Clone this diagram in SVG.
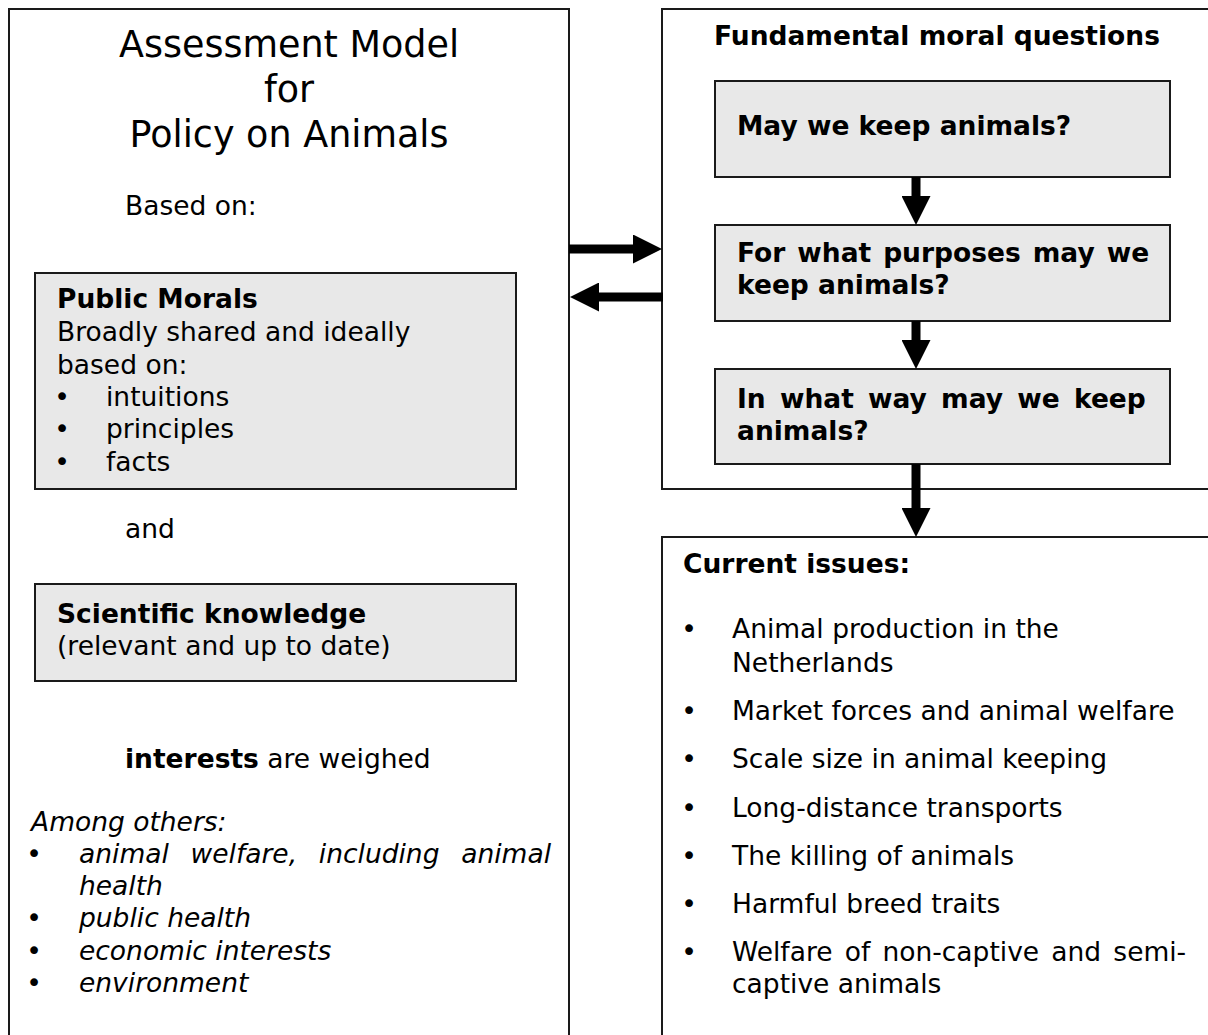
<svg xmlns="http://www.w3.org/2000/svg" width="1208" height="1035" viewBox="0 0 1208 1035">
<defs>
<style>
text{font-family:"DejaVu Sans",Verdana,sans-serif;font-size:26.5px;fill:#000}
.title{font-size:36.5px;text-anchor:middle}
.b{font-weight:bold}
.i{font-style:italic}
.bul{text-anchor:middle}
.outer{fill:#fff;stroke:#1a1a1a;stroke-width:2}
.inner{fill:#e8e8e8;stroke:#1a1a1a;stroke-width:2}
.conn{fill:none;stroke:#000;stroke-width:9}
</style>
<marker id="head" viewBox="0 0 29 29" refX="1" refY="14.5" markerWidth="29" markerHeight="29" markerUnits="userSpaceOnUse" orient="auto">
<path d="M0,0 L29,14.5 L0,29 Z" fill="#000"/>
</marker>
</defs>
<rect width="1208" height="1035" fill="#fff"/>

<g id="assessment-model">
<rect class="outer" x="9" y="9" width="560" height="1050"/>
<text class="title" x="289" y="57">Assessment Model</text>
<text class="title" x="289" y="102">for</text>
<text class="title" x="289" y="147">Policy on Animals</text>
<text x="125" y="215">Based on:</text>
<text x="125" y="538">and</text>
<text x="125" y="768"><tspan class="b">interests</tspan> are weighed</text>
<text class="i" x="31" y="831">Among others:</text>
<text class="bul" x="34" y="863">•</text>
<text class="i" x="79" y="863" word-spacing="13.3">animal welfare, including animal</text>
<text class="i" x="79" y="895">health</text>
<text class="bul" x="34" y="927">•</text>
<text class="i" x="79" y="927">public health</text>
<text class="bul" x="34" y="960">•</text>
<text class="i" x="79" y="960">economic interests</text>
<text class="bul" x="34" y="992">•</text>
<text class="i" x="79" y="992">environment</text>
</g>

<g id="public-morals">
<rect class="inner" x="35" y="273" width="481" height="216"/>
<text class="b" x="57" y="308">Public Morals</text>
<text x="57" y="341">Broadly shared and ideally</text>
<text x="57" y="374">based on:</text>
<text class="bul" x="62" y="406">•</text>
<text x="106" y="406">intuitions</text>
<text class="bul" x="62" y="438">•</text>
<text x="106" y="438">principles</text>
<text class="bul" x="62" y="471">•</text>
<text x="106" y="471">facts</text>
</g>

<g id="scientific-knowledge">
<rect class="inner" x="35" y="584" width="481" height="97"/>
<text class="b" x="57" y="623">Scientific knowledge</text>
<text x="57" y="655">(relevant and up to date)</text>
</g>

<g id="fundamental-moral-questions">
<rect class="outer" x="662" y="9" width="560" height="480"/>
<text class="b" x="714" y="45">Fundamental moral questions</text>
</g>

<g id="q-may-we-keep">
<rect class="inner" x="715" y="81" width="455" height="96"/>
<text class="b" x="737" y="135">May we keep animals?</text>
</g>

<g id="q-what-purposes">
<rect class="inner" x="715" y="225" width="455" height="96"/>
<text class="b" x="737" y="262" word-spacing="2.75">For what purposes may we</text>
<text class="b" x="737" y="294">keep animals?</text>
</g>

<g id="q-what-way">
<rect class="inner" x="715" y="369" width="455" height="95"/>
<text class="b" x="737" y="408" word-spacing="5">In what way may we keep</text>
<text class="b" x="737" y="440">animals?</text>
</g>

<g id="current-issues">
<rect class="outer" x="662" y="537" width="560" height="520"/>
<text class="b" x="683" y="573">Current issues:</text>
<text class="bul" x="689" y="638">•</text>
<text x="732" y="638">Animal production in the</text>
<text x="732" y="672">Netherlands</text>
<text class="bul" x="689" y="720">•</text>
<text x="732" y="720">Market forces and animal welfare</text>
<text class="bul" x="689" y="768">•</text>
<text x="732" y="768">Scale size in animal keeping</text>
<text class="bul" x="689" y="817">•</text>
<text x="732" y="817">Long-distance transports</text>
<text class="bul" x="689" y="865">•</text>
<text x="732" y="865">The killing of animals</text>
<text class="bul" x="689" y="913">•</text>
<text x="732" y="913">Harmful breed traits</text>
<text class="bul" x="689" y="961">•</text>
<text x="732" y="961" word-spacing="3.75">Welfare of non-captive and semi-</text>
<text x="732" y="993">captive animals</text>
</g>

<g id="connectors">
<path class="conn" d="M569,249 H634" marker-end="url(#head)"/>
<path class="conn" d="M663,297 H598" marker-end="url(#head)"/>
<path class="conn" d="M916,177 V197" marker-end="url(#head)"/>
<path class="conn" d="M916,321 V341" marker-end="url(#head)"/>
<path class="conn" d="M916,464 V509" marker-end="url(#head)"/>
</g>
</svg>
